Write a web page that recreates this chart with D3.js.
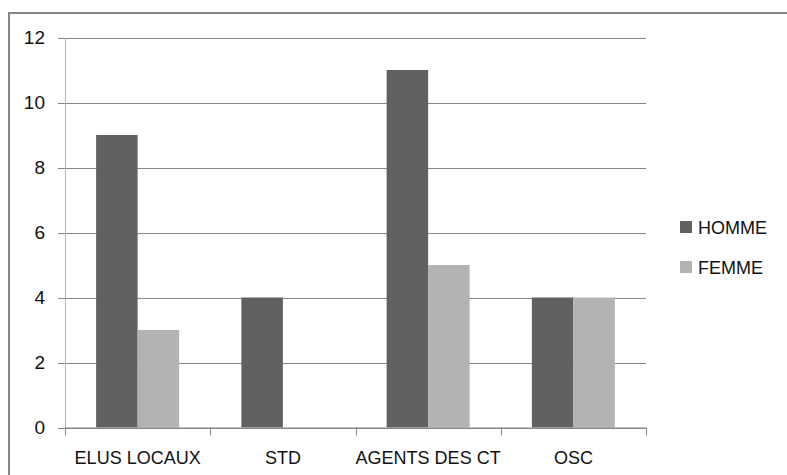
<!DOCTYPE html>
<html>
<head>
<meta charset="utf-8">
<script src="https://cdn.jsdelivr.net/npm/d3@7"></script>
<style>
  html, body { margin: 0; padding: 0; background: #fff; }
  svg { display: block; }
  text { font-family: "Liberation Sans", Arial, sans-serif; fill: #111; }
</style>
</head>
<body>
<script>
// Participants by category and sex
const categories = ["ELUS LOCAUX", "STD", "AGENTS DES CT", "OSC"];
const seriesNames = ["HOMME", "FEMME"];
const homme = [9, 4, 11, 4];
const femme = [3, 0, 5, 4];
const yTicks = [0, 2, 4, 6, 8, 10, 12];
const colors = ["#616161", "#b3b3b3"];

const W = 787, H = 475;
const plot = { left: 65, right: 646, top: 37.5, bottom: 427.5 };

const svg = d3.select("body").append("svg")
  .attr("width", W).attr("height", H);

// Outer frame (top and left edges visible)
svg.append("rect")
  .attr("x", 9).attr("y", 13)
  .attr("width", W + 10).attr("height", H + 10)
  .attr("fill", "none").attr("stroke", "#868686").attr("stroke-width", 2);

const x = d3.scaleBand().domain(categories)
  .range([plot.left, plot.right]).paddingInner(0).paddingOuter(0);
const y = d3.scaleLinear().domain([0, 12]).range([plot.bottom, plot.top]);

// Horizontal gridlines with left tick stubs
const yAxis = d3.axisLeft(y).tickValues(yTicks)
  .tickSize(-(plot.right - plot.left)).tickPadding(20).tickFormat(d3.format("d"));
const gy = svg.append("g").attr("transform", `translate(${plot.left},0)`).call(yAxis);
gy.select(".domain").remove();
gy.selectAll(".tick line").attr("stroke", "#868686").attr("x1", -7).attr("shape-rendering", "crispEdges");
gy.selectAll(".tick text").attr("font-size", 19).attr("fill", "#111");

// Vertical axis line
svg.append("line")
  .attr("x1", plot.left).attr("x2", plot.left)
  .attr("y1", plot.top).attr("y2", plot.bottom)
  .attr("stroke", "#b5b5b5").attr("shape-rendering", "crispEdges");

// Bars
const inner = d3.scaleBand().domain(seriesNames)
  .range([0, x.bandwidth()]).paddingOuter(0.75).paddingInner(0);
const seriesData = [homme, femme];
seriesNames.forEach((name, si) => {
  svg.append("g").selectAll("rect")
    .data(categories.map((c, i) => ({ c, v: seriesData[si][i] })))
    .join("rect")
    .attr("x", d => x(d.c) + inner(name))
    .attr("width", inner.bandwidth())
    .attr("y", d => y(d.v))
    .attr("height", d => y(0) - y(d.v))
    .attr("fill", colors[si]);
});

// Category axis
const xAxis = d3.axisBottom(x).tickSize(0).tickPadding(0);
const gx = svg.append("g").attr("transform", `translate(0,${plot.bottom})`).call(xAxis);
gx.select(".domain").attr("stroke", "#868686").attr("d", `M${plot.left},0.5H${plot.right}`);
gx.selectAll(".tick text").attr("font-size", 18).attr("dy", 0).attr("y", 36.5).attr("fill", "#111");
// Boundary ticks between categories
const bounds = categories.map(c => x(c)).concat([plot.right]);
svg.append("g").selectAll("line").data(bounds).join("line")
  .attr("x1", d => Math.round(d) + 0.5).attr("x2", d => Math.round(d) + 0.5)
  .attr("y1", plot.bottom).attr("y2", plot.bottom + 8)
  .attr("stroke", "#868686");

// Legend
const legend = svg.append("g").attr("transform", "translate(680,221)");
seriesNames.forEach((name, i) => {
  const g = legend.append("g").attr("transform", `translate(0,${i * 40})`);
  g.append("rect").attr("width", 12).attr("height", 12).attr("fill", colors[i]);
  g.append("text").attr("x", 18).attr("y", 13).attr("font-size", 18).text(name);
});
</script>
</body>
</html>
